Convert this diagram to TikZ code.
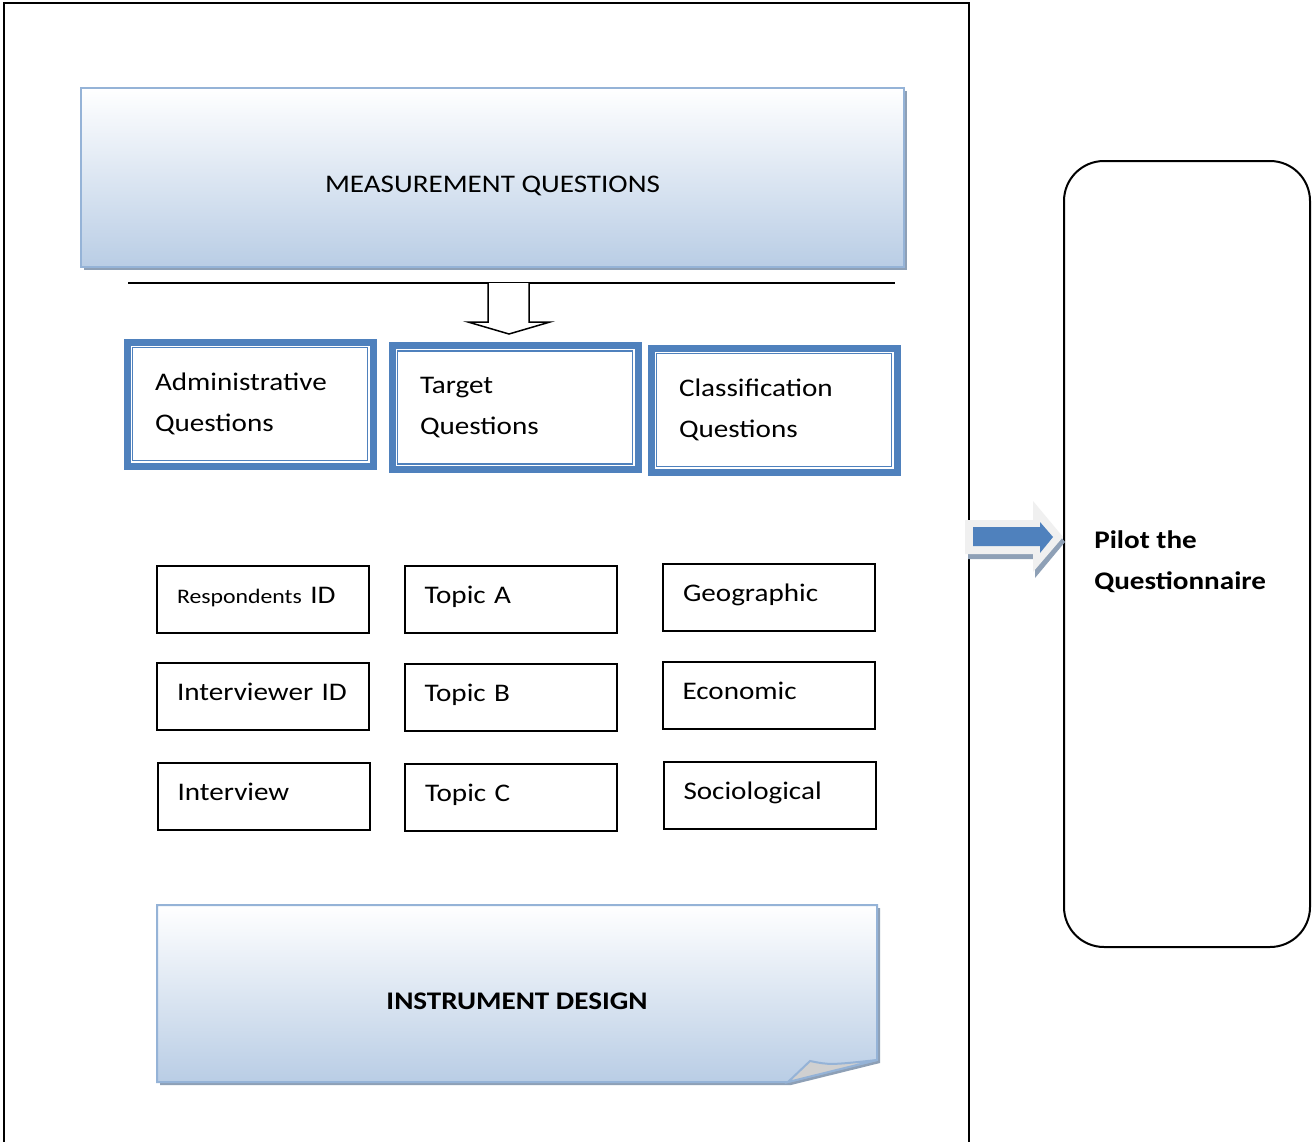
\documentclass[tikz,border=0pt]{standalone}
\usepackage{fontspec}
\setmainfont{Carlito}[FakeStretch=1.15]
\usetikzlibrary{shapes.geometric,shadows,calc,positioning}
\newlength{\unitpx}
\setlength{\unitpx}{0.75pt}
\definecolor{gradblue}{HTML}{B9CDE5}
\definecolor{edgeblue}{HTML}{95B3D7}
\definecolor{shadeblue}{HTML}{8EA0B6}
\definecolor{boxblue}{HTML}{4F81BD}
\definecolor{arrowgray}{HTML}{F0F0F0}
\definecolor{foldgray}{HTML}{D0D0D0}
\newcommand{\diagfont}{\fontsize{19pt}{30.75pt}\selectfont}
\newcommand{\respfont}{\fontsize{15.5pt}{20pt}\selectfont}
\tikzset
{
	headbox/.style  = {rectangle, draw=edgeblue, line width=2\unitpx, top color=white, bottom color=gradblue, font=\diagfont, drop shadow={shadow xshift=3\unitpx, shadow yshift=-3\unitpx, fill=shadeblue, opacity=1}},
	groupbox/.style = {rectangle, draw=boxblue, line width=7\unitpx, fill=white, align=left, font=\diagfont, text width=190\unitpx, minimum width=246\unitpx, minimum height=124\unitpx, inner sep=0pt},
	innerline/.style = {draw=boxblue, line width=1.8\unitpx},
	itembox/.style  = {rectangle, draw=black, line width=2\unitpx, align=left, font=\diagfont, text width=172\unitpx, text height=16\unitpx, text depth=8\unitpx, minimum width=212\unitpx, minimum height=67\unitpx, inner sep=0pt},
	pilotbox/.style = {rectangle, rounded corners=40\unitpx, draw=black, line width=2\unitpx, minimum width=246\unitpx, minimum height=786\unitpx},
	pilottext/.style = {align=left, font=\diagfont\bfseries, inner sep=0pt, anchor=west},
	frame/.style    = {draw=black, line width=2\unitpx}
}
\begin{document}
\begin{tikzpicture}[x=\unitpx, y=-\unitpx]
\useasboundingbox (0,0) rectangle (1314,1142);
\fill[white] (0,0) rectangle (1314,1142);
% page frame, open at the bottom
\draw[frame] (4,1160) -- (4,3) -- (969,3) -- (969,1160);

\node[headbox, minimum width=823\unitpx, minimum height=179\unitpx, text height=29\unitpx, text depth=0pt] (meas) at (492.5,177.5) {MEASUREMENT QUESTIONS};

% split line and hollow arrow
\coordinate (splitl) at (128,283);
\coordinate (splitr) at (895,283);
\draw[line width=2\unitpx] (splitl) -- (splitr);
\draw[line width=1.5\unitpx, fill=white] (488,283) -- (488,322) -- (468,322) -- (509,334) -- (550,322) -- (529,322) -- (529,283);

\node[groupbox] (admin) at (250,404) {Administrative\\Questions};
\node[groupbox] (target) at (515,407.5) {Target\\Questions};
\node[groupbox] (classif) at (774,410) {Classification\\Questions};
\draw[innerline] ($(admin.north west)+(9,9)$) rectangle ($(admin.south east)+(-9,-9)$);
\draw[innerline] ($(target.north west)+(9,9)$) rectangle ($(target.south east)+(-9,-9)$);
\draw[innerline] ($(classif.north west)+(9,9)$) rectangle ($(classif.south east)+(-9,-9)$);

\node[itembox] (resp) at (263,599) {{\respfont Respondents} ID};
\node[itembox] (intervr) at (263,696.5) {Interviewer ID};
\node[itembox] (intvw) at (263.5,796.5) {Interview};
\node[itembox] (topica) at (510.5,599) {Topic A};
\node[itembox] (topicb) at (510.5,697) {Topic B};
\node[itembox] (topicc) at (511,797) {Topic C};
\node[itembox] (geo) at (769,597) {Geographic};
\node[itembox] (econ) at (768.5,695) {Economic};
\node[itembox] (socio) at (769.5,795) {Sociological};

% instrument design sheet with curled corner
\fill[shadeblue] (160,908) -- (880,908) -- (880,1063) -- (791,1085) -- (160,1085) -- cycle;
\shade[top color=white, bottom color=gradblue, draw=edgeblue, line width=2\unitpx] (157,905) -- (877,905) -- (877,1060) -- (788,1082) -- (157,1082) -- cycle;
\draw[fill=foldgray, draw=edgeblue, line width=2\unitpx] (788,1082) -- (810,1061) .. controls (830,1065) .. (877,1060) -- cycle;
\node[font=\diagfont\bfseries, text height=31\unitpx, text depth=0pt] (instr) at (517,993.5) {INSTRUMENT DESIGN};

\node[pilotbox] (pilot) at (1187,554) {};
\node[pilottext] (pilotlabel) at (1094,562) {Pilot the\\Questionnaire};

% block arrow to the pilot box
\fill[shadeblue] (968,525) -- (1035,525) -- (1035,506) -- (1065,542) -- (1035,578) -- (1035,559) -- (968,559) -- cycle;
\fill[arrowgray] (965,520) -- (1033,520) -- (1033,501) -- (1063,537) -- (1033,572) -- (1033,554) -- (965,554) -- cycle;
\fill[boxblue] (973,527) -- (1040,527) -- (1040,522) -- (1053,537) -- (1040,553) -- (1040,546) -- (973,546) -- cycle;
\end{tikzpicture}
\end{document}
